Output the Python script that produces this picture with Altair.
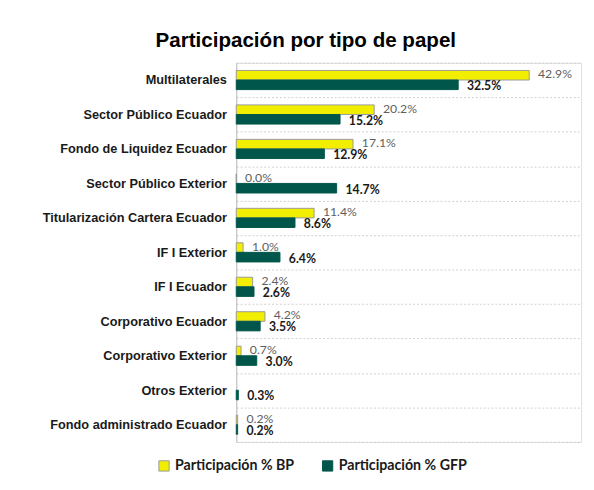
import altair as alt
import pandas as pd

categories = [
    "Multilaterales",
    "Sector Público Ecuador",
    "Fondo de Liquidez Ecuador",
    "Sector Público Exterior",
    "Titularización Cartera Ecuador",
    "IF I Exterior",
    "IF I Ecuador",
    "Corporativo Ecuador",
    "Corporativo Exterior",
    "Otros Exterior",
    "Fondo administrado Ecuador",
]
bp_values = [42.9, 20.2, 17.1, 0.0, 11.4, 1.0, 2.4, 4.2, 0.7, None, 0.2]
gfp_values = [32.5, 15.2, 12.9, 14.7, 8.6, 6.4, 2.6, 3.5, 3.0, 0.3, 0.2]
series = ["Participación % BP", "Participación % GFP"]
colors = ["#F2EE00", "#00564A"]

rows = []
for c, b, g in zip(categories, bp_values, gfp_values):
    if b is not None:
        rows.append({"cat": c, "serie": series[0], "val": b, "lab": f"{b:.1f}%"})
    rows.append({"cat": c, "serie": series[1], "val": g, "lab": f"{g:.1f}%"})
df = pd.DataFrame(rows)

y_enc = alt.Y("cat:N", sort=categories, title=None,
              scale=alt.Scale(paddingInner=0, paddingOuter=0),
              axis=alt.Axis(tickBand="extent", grid=True, gridColor="#cfcfcf",
                            gridDash=[2, 2], ticks=False, domainColor="#bfbfbf",
                            labelFont="Liberation Sans", labelFontWeight="bold",
                            labelFontSize=13, labelColor="#1a1a1a",
                            labelPadding=10, minExtent=228, maxExtent=228,
                            labelLimit=225))
yoff = alt.YOffset("serie:N", sort=series,
                   scale=alt.Scale(paddingInner=0, paddingOuter=0.8))
x_enc = alt.X("val:Q", scale=alt.Scale(domain=[0, 50.5], nice=False), axis=None)

bars = alt.Chart(df).mark_bar(strokeWidth=1).encode(
    y=y_enc, yOffset=yoff, x=x_enc,
    color=alt.Color("serie:N", sort=series,
                    scale=alt.Scale(domain=series, range=colors),
                    legend=alt.Legend(title=None, orient="none", direction="horizontal",
                                      legendX=-81, legendY=404, symbolType="square",
                                      symbolSize=110, labelFont="Lato",
                                      labelFontWeight="bold", labelFontSize=14.5,
                                      labelColor="#1a1a1a", columnPadding=26,
                                      symbolStrokeWidth=1)),
    stroke=alt.Stroke("serie:N", sort=series,
                      scale=alt.Scale(domain=series, range=["#9a9a9a", "#00564A"]),
                      legend=None),
)

t_bp = alt.Chart(df[df.serie == series[0]]).mark_text(
    align="left", baseline="middle", dx=9, dy=-1, font="Lato", fontSize=12.5,
    color="#5f5f5f").encode(y=y_enc, yOffset=yoff, x=x_enc, text="lab:N")
t_gfp = alt.Chart(df[df.serie == series[1]]).mark_text(
    align="left", baseline="middle", dx=9, dy=1.5, font="Lato", fontSize=12.5,
    fontWeight="bold", color="#1a1a1a").encode(y=y_enc, yOffset=yoff, x=x_enc, text="lab:N")

chart = alt.layer(bars, t_bp, t_gfp).properties(
    width=352, height=387,
    padding={"top": 18, "left": 5, "right": 5, "bottom": 5},
    title=alt.TitleParams("Participación por tipo de papel", font="Liberation Sans",
                          fontSize=21, fontWeight="bold", color="#000000",
                          anchor="middle", dx=-105, offset=6),
).configure_view(stroke=None).configure(background="white")

chart.save("out.html", embed_options={"renderer": "svg", "actions": False})
